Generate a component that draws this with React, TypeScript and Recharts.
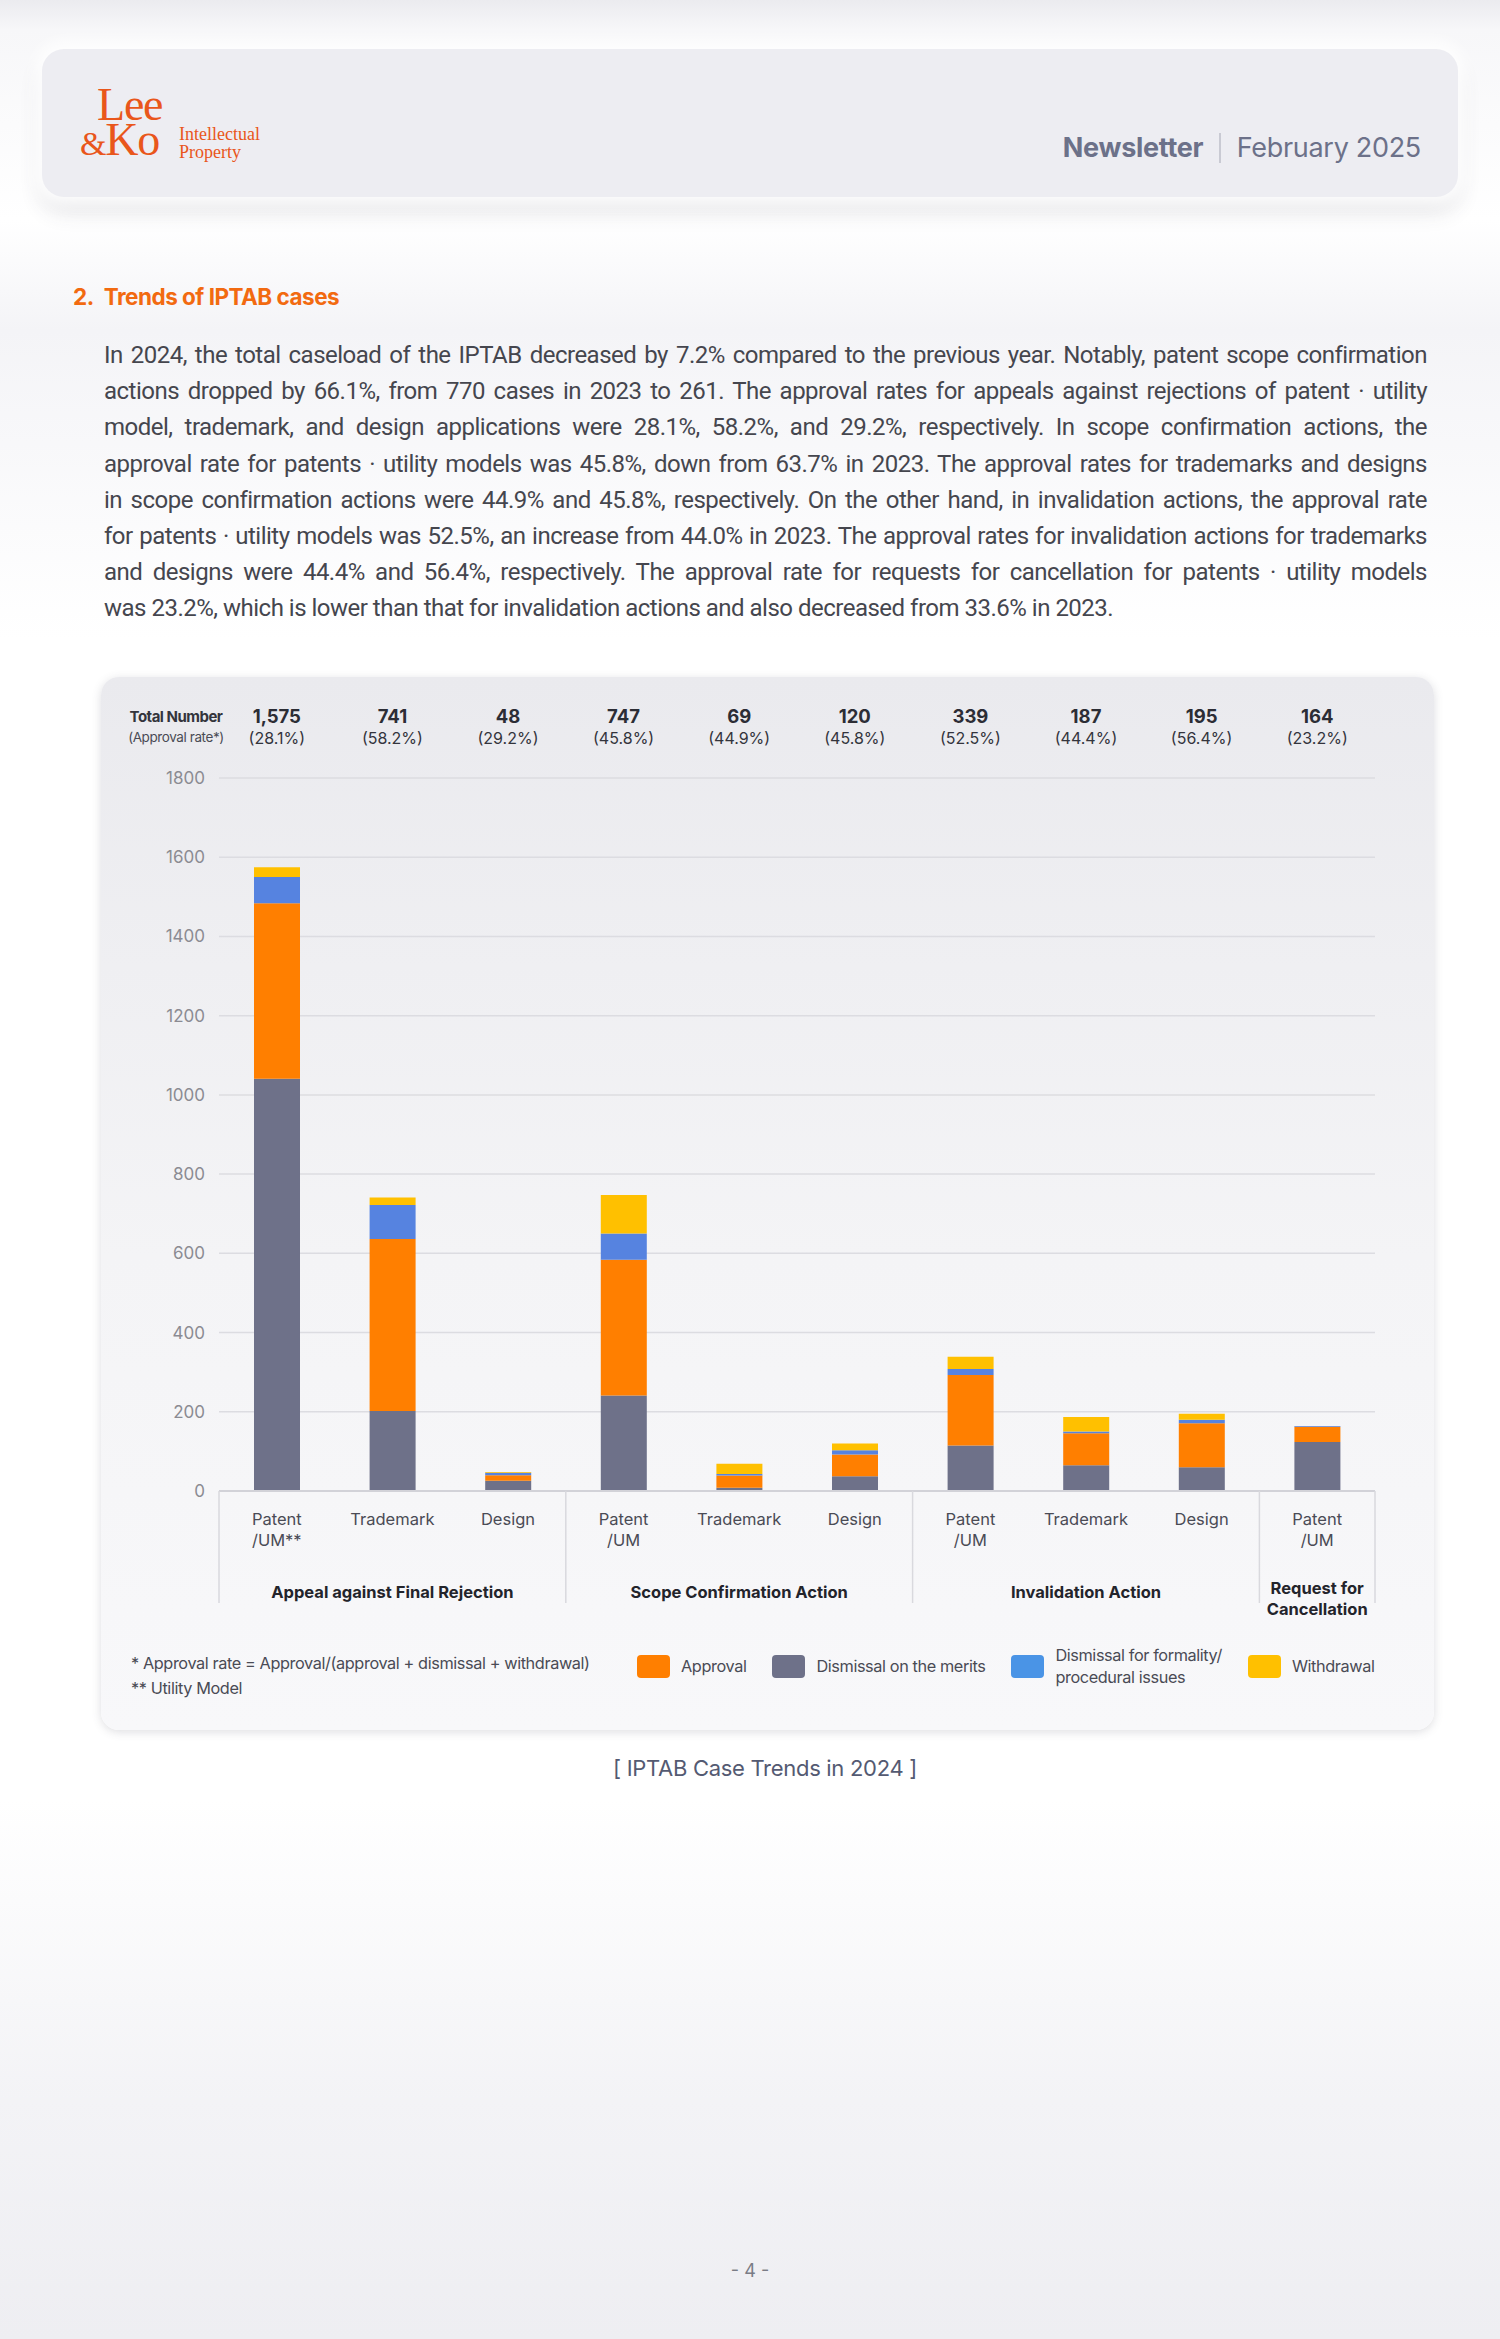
import React from "react"
import { BarChart, Bar, XAxis, YAxis, CartesianGrid } from "recharts"

// Data (IPTAB cases 2024)
const categories = ["Patent|/UM**", "Trademark", "Design", "Patent|/UM", "Trademark", "Design", "Patent|/UM", "Trademark", "Design", "Patent|/UM"]
const groupOf = [0, 0, 0, 1, 1, 1, 2, 2, 2, 3]
const groupNames = ["Appeal against Final Rejection", "Scope Confirmation Action", "Invalidation Action", "Request for|Cancellation"]
const totals = ["1,575", "741", "48", "747", "69", "120", "339", "187", "195", "164"]
const approvalRates = ["28.1%", "58.2%", "29.2%", "45.8%", "44.9%", "45.8%", "52.5%", "44.4%", "56.4%", "23.2%"]

const dismissalMerits = [1041, 202, 26, 241, 8, 37, 115, 65, 60, 124]
const approval = [443, 434, 14, 343, 31, 55, 178, 81, 111, 38]
const dismissalFormality = [66, 86, 6, 66, 4, 11, 15, 4, 9, 2]
const withdrawal = [25, 19, 2, 97, 26, 17, 31, 37, 15, 0]

const yTicks = [0, 200, 400, 600, 800, 1000, 1200, 1400, 1600, 1800]

// stacking order bottom -> top
const series = [
  { key: "merits", name: "Dismissal on the merits", color: "#6e7189", legendColor: "#6e7189" },
  { key: "approval", name: "Approval", color: "#ff7f00", legendColor: "#ff7f00" },
  { key: "formality", name: "Dismissal for formality/|procedural issues", color: "#5683e0", legendColor: "#4a94e6" },
  { key: "withdrawal", name: "Withdrawal", color: "#ffc000", legendColor: "#ffc000" },
]
const legendOrder = ["approval", "merits", "formality", "withdrawal"]

const paragraph = [
  "In 2024, the total caseload of the IPTAB decreased by 7.2% compared to the previous year. Notably, patent scope confirmation",
  "actions dropped by 66.1%, from 770 cases in 2023 to 261. The approval rates for appeals against rejections of patent · utility",
  "model, trademark, and design applications were 28.1%, 58.2%, and 29.2%, respectively. In scope confirmation actions, the",
  "approval rate for patents · utility models was 45.8%, down from 63.7% in 2023. The approval rates for trademarks and designs",
  "in scope confirmation actions were 44.9% and 45.8%, respectively. On the other hand, in invalidation actions, the approval rate",
  "for patents · utility models was 52.5%, an increase from 44.0% in 2023. The approval rates for invalidation actions for trademarks",
  "and designs were 44.4% and 56.4%, respectively. The approval rate for requests for cancellation for patents · utility models",
  "was 23.2%, which is lower than that for invalidation actions and also decreased from 33.6% in 2023.",
]

const data = categories.map((c, i) => ({
  id: i,
  name: c,
  merits: dismissalMerits[i],
  approval: approval[i],
  formality: dismissalFormality[i],
  withdrawal: withdrawal[i],
}))

const FONT = "Inter, 'Noto Sans', sans-serif"
const SERIF = "'Liberation Serif', 'DejaVu Serif', serif"
const CHART_W = 1333
const CHART_H = 1053

const TopTick = (props: any) => {
  const { x, y, index } = props
  return (
    <g>
      <text x={x} y={y - 55} textAnchor="middle" fontSize={18.5} fontWeight={700} fill="#2c2d35" fontFamily={FONT}>
        {totals[index]}
      </text>
      <text x={x} y={y - 34} textAnchor="middle" fontSize={16} fill="#33343c" fontFamily={FONT}>
        ({approvalRates[index]})
      </text>
    </g>
  )
}

const BottomTick = (props: any) => {
  const { x, y, index, width, visibleTicksCount } = props
  const count = visibleTicksCount || categories.length
  const bw = (width || 1156) / count
  const lines = categories[index].split("|")
  const g = groupOf[index]
  const first = groupOf.indexOf(g)
  const last = groupOf.lastIndexOf(g)
  const sepColor = "#d9d9de"
  return (
    <g fontFamily={FONT}>
      {lines.map((l, k) => (
        <text key={k} x={x} y={y + 34 + k * 21} textAnchor="middle" fontSize={16.5} fill="#4a4b55">
          {l}
        </text>
      ))}
      {index === first && (
        <line x1={x - bw / 2} x2={x - bw / 2} y1={y} y2={y + 112} stroke={sepColor} strokeWidth={1.5} />
      )}
      {index === categories.length - 1 && (
        <line x1={x + bw / 2} x2={x + bw / 2} y1={y} y2={y + 112} stroke={sepColor} strokeWidth={1.5} />
      )}
      {index === first &&
        groupNames[g].split("|").map((l, k, arr) => (
          <text
            key={"g" + k}
            x={x + ((last - first) / 2) * bw}
            y={y + (arr.length > 1 ? 103 + k * 21 : 107)}
            textAnchor="middle"
            fontSize={16.5}
            fontWeight={700}
            fill="#23242b"
          >
            {l}
          </text>
        ))}
    </g>
  )
}

export default function App() {
  return (
    <div
      style={{
        position: "absolute",
        left: 0,
        top: 0,
        width: 1500,
        height: 2339,
        overflow: "hidden",
        fontFamily: FONT,
        background:
          "linear-gradient(180deg, #ebebef 0px, #f7f7f9 30px, #ffffff 220px, #f4f4f7 330px, #ffffff 640px, #ffffff 1800px, #f3f3f6 2100px, #eeeef2 2339px)",
      }}
    >
      {/* header */}
      <div
        style={{
          position: "absolute",
          left: 42,
          top: 49,
          width: 1416,
          height: 148,
          borderRadius: 22,
          background: "#ededf2",
          boxShadow: "0 0 14px 8px rgba(255,255,255,0.9), 0 14px 22px rgba(60,60,80,0.16)",
        }}
      >
        <div style={{ position: "absolute", left: 38, top: 38, fontFamily: SERIF, color: "#e9561b", fontSize: 46, lineHeight: "35px", letterSpacing: -1.2, whiteSpace: "nowrap" }}>
          <span style={{ marginLeft: 17 }}>Lee</span>
          <br />
          <span style={{ fontSize: 34 }}>&amp;</span>Ko
        </div>
        <div style={{ position: "absolute", left: 137, top: 76, fontFamily: SERIF, color: "#e9561b", fontSize: 18, lineHeight: "18px" }}>
          Intellectual
          <br />
          Property
        </div>
        <div style={{ position: "absolute", right: 37, top: 82, display: "flex", alignItems: "center", color: "#6c7189", fontSize: 27, letterSpacing: -0.3 }}>
          <span style={{ fontWeight: 700 }}>Newsletter</span>
          <span style={{ display: "inline-block", width: 1.5, height: 30, background: "#c9cad3", margin: "0 16px" }} />
          <span>February 2025</span>
        </div>
      </div>

      {/* section title */}
      <div style={{ position: "absolute", left: 73, top: 283, fontSize: 22.5, fontWeight: 700, color: "#f26a10", letterSpacing: -0.5 }}>
        2.<span style={{ marginLeft: 10 }}>Trends of IPTAB cases</span>
      </div>

      {/* paragraph */}
      <div style={{ position: "absolute", left: 104, top: 337, width: 1323, fontFamily: "Roboto, sans-serif", fontSize: 24, lineHeight: "36.2px", color: "#45464e", letterSpacing: -0.5 }}>
        {paragraph.map((line, i) => (
          <div key={i} style={{ textAlign: "justify", textAlignLast: i < paragraph.length - 1 ? "justify" : "left", height: 36.2, overflow: "visible" }}>
            {line}
          </div>
        ))}
      </div>

      {/* chart card */}
      <div
        style={{
          position: "absolute",
          left: 101,
          top: 677,
          width: CHART_W,
          height: CHART_H,
          borderRadius: 18,
          background: "linear-gradient(180deg, #eaeaee 0%, #f4f4f6 55%, #f8f8fa 100%)",
          boxShadow: "0 2px 10px rgba(70,70,90,0.18)",
        }}
      >
        <div style={{ position: "absolute", left: 12, top: 30, width: 126, textAlign: "center", color: "#33343c" }}>
          <div style={{ fontSize: 15, fontWeight: 700, letterSpacing: -0.5, lineHeight: "20px" }}>Total Number</div>
          <div style={{ fontSize: 13.5, letterSpacing: -0.4, lineHeight: "21px", color: "#4a4b55" }}>(Approval rate*)</div>
        </div>

        <BarChart
          width={CHART_W}
          height={CHART_H}
          data={data}
          margin={{ top: 20, right: 59, left: 0, bottom: 119 }}
          barSize={46}
          style={{ position: "absolute", left: 0, top: 0 }}
        >
          <CartesianGrid vertical={false} stroke="#dcdce1" strokeWidth={1.5} />
          <XAxis
            xAxisId={0}
            dataKey="id"
            type="category"
            height={120}
            tickLine={false}
            tickSize={0}
            tickMargin={0}
            axisLine={{ stroke: "#d2d2d8", strokeWidth: 2 }}
            interval={0}
            tick={<BottomTick />}
          />
          <XAxis
            xAxisId="top"
            orientation="top"
            dataKey="id"
            type="category"
            height={81}
            tickLine={false}
            tickSize={0}
            tickMargin={0}
            axisLine={false}
            interval={0}
            tick={<TopTick />}
          />
          <YAxis
            width={118}
            domain={[0, 1800]}
            ticks={yTicks}
            tickLine={false}
            axisLine={false}
            tickSize={0}
            tickMargin={14}
            tick={{ fontSize: 17, fill: "#8b8b92", fontFamily: FONT }}
          />
          {series.map((s) => (
            <Bar key={s.key} dataKey={s.key} name={s.name} stackId="a" fill={s.color} xAxisId={0} isAnimationActive={false} />
          ))}
        </BarChart>

        {/* footnotes */}
        <div style={{ position: "absolute", left: 30, top: 974, fontSize: 16.3, color: "#4a4b55", letterSpacing: -0.4, lineHeight: "25px" }}>
          <div>* Approval rate = Approval/(approval + dismissal + withdrawal)</div>
          <div>** Utility Model</div>
        </div>

        {/* legend */}
        <div style={{ position: "absolute", left: 536, top: 967, display: "flex", alignItems: "center", gap: 26 }}>
          {legendOrder.map((k) => {
            const s = series.find((x) => x.key === k)!
            return (
              <div key={k} style={{ display: "flex", alignItems: "center", gap: 11 }}>
                <div style={{ width: 33, height: 23, borderRadius: 4, background: s.legendColor }} />
                <div style={{ fontSize: 16.3, color: "#4a4b55", letterSpacing: -0.4, lineHeight: "22px" }}>
                  {s.name.split("|").map((l, i) => (
                    <div key={i}>{l}</div>
                  ))}
                </div>
              </div>
            )
          })}
        </div>
      </div>

      {/* caption */}
      <div style={{ position: "absolute", left: 0, width: 1530, top: 1755, textAlign: "center", fontSize: 22, color: "#545a72", letterSpacing: -0.3 }}>
        [ IPTAB Case Trends in 2024 ]
      </div>

      {/* page number */}
      <div style={{ position: "absolute", left: 0, width: 1500, top: 2260, textAlign: "center", fontSize: 18, color: "#7a7c86" }}>
        - 4 -
      </div>
    </div>
  )
}
